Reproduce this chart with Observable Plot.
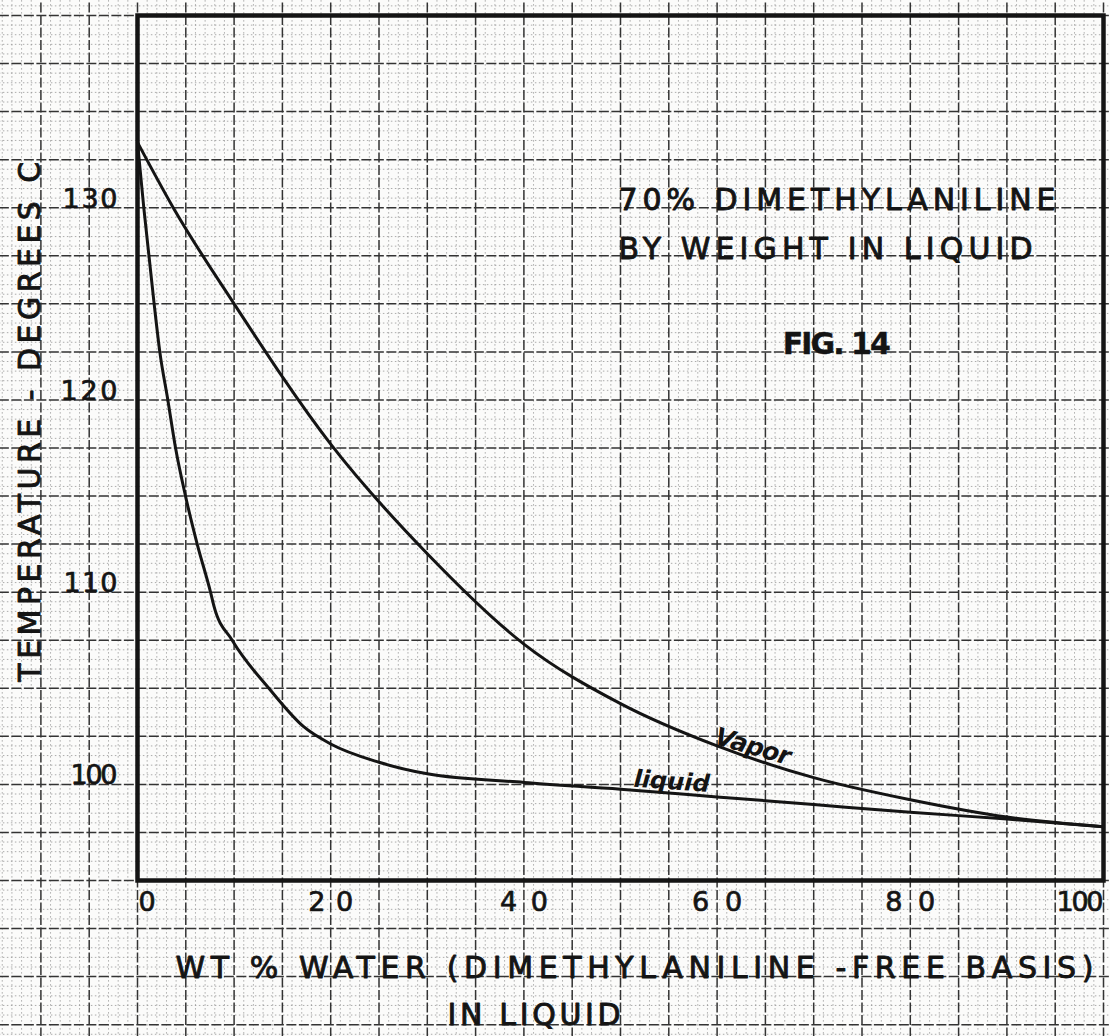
<!DOCTYPE html>
<html><head><meta charset="utf-8">
<script src="https://cdn.jsdelivr.net/npm/d3@7"></script>
<script src="https://cdn.jsdelivr.net/npm/@observablehq/plot@0.6"></script>
<style>
html,body{margin:0;padding:0;background:#fbfbfa;}
svg{display:block;}
</style></head><body><div id="chart"></div>
<script>
// ---- data ----
const xTicks = [0, 20, 40, 60, 80, 100];
const yTicks = [100, 110, 120, 130];

const vaporWater = [0, 3.7, 10, 20, 30, 40, 50, 60, 70, 80, 90, 100];
const vaporTemp  = [133.4, 130, 125, 117.7, 112, 107.3, 104.2, 102.0, 100.35, 99.2, 98.3, 97.8];

const liquidWater = [0, 0.65, 1.7, 2.31, 3.14, 3.94, 4.97, 6.18, 7.56, 7.9, 9.8, 13.6, 17.2, 20, 25, 30, 40, 50, 60, 70, 80, 90, 100];
const liquidTemp  = [133.4, 130, 125.1, 122.5, 120, 117.5, 115, 112.5, 110, 109.3, 107.5, 105, 103, 102.1, 101.15, 100.55, 100.1, 99.75, 99.35, 98.95, 98.55, 98.2, 97.8];

const titleLines = ["70% DIMETHYLANILINE", "BY WEIGHT IN LIQUID"];
const figLabel = "FIG. 14";
const yLabel = "TEMPERATURE - DEGREES C";
const xLabel1 = "WT % WATER (DIMETHYLANILINE -FREE BASIS)";
const xLabel2 = "IN LIQUID";
const vaporLabel = "Vapor";
const liquidLabel = "liquid";

// ---- tables ----
const vapor = vaporWater.map((w, i) => ({w, t: vaporTemp[i]}));
const liquid = liquidWater.map((w, i) => ({w, t: liquidTemp[i]}));

// graph-paper grid (decoration, spanning the whole sheet)
const gx = d3.range(-14, 101, 1);
const gy = d3.range(87, 141, 0.5);
const majorX = gx.filter(v => v % 5 === 0);
const minorX = gx.filter(v => v % 5 !== 0);
const majorY = gy.filter(v => v % 2.5 === 0);
const minorY = gy.filter(v => v % 2.5 !== 0);

const ink = "#141414";
const lettering = {fill: ink, stroke: ink, strokeWidth: 0.9, fontSize: 30};

const chart = Plot.plot({
  width: 1110, height: 1036,
  marginLeft: 137, marginRight: 7, marginTop: 15, marginBottom: 156,
  x: {domain: [0, 100], axis: null},
  y: {domain: [95, 140], axis: null},
  style: {background: "#fbfbfa", fontFamily: "DejaVu Sans", color: ink},
  marks: [
    // minor grid
    Plot.ruleX(minorX, {x: d => d, y1: 86.8, y2: 140.9, stroke: "#8a8a8a", strokeWidth: 1, strokeDasharray: "1.5,2.5", strokeOpacity: 0.7}),
    Plot.ruleY(minorY, {y: d => d, x1: -14.3, x2: 100.8, stroke: "#8a8a8a", strokeWidth: 1, strokeDasharray: "1.5,2.5", strokeOpacity: 0.7}),
    // major grid
    Plot.ruleX(majorX, {x: d => d, y1: 86.8, y2: 140.9, stroke: "#333", strokeWidth: 1.5, strokeDasharray: "10,2.5"}),
    Plot.ruleY(majorY, {y: d => d, x1: -14.3, x2: 100.8, stroke: "#333", strokeWidth: 1.5, strokeDasharray: "10,2.5"}),
    // frame
    Plot.frame({stroke: ink, strokeWidth: 4.5}),
    // curves
    Plot.line(vapor, {x: "w", y: "t", curve: "monotone-x", stroke: ink, strokeWidth: 3}),
    Plot.line(liquid, {x: "w", y: "t", curve: "monotone-x", stroke: ink, strokeWidth: 3}),
    // tick labels
    Plot.text(yTicks, {x: 0, y: d => d, text: d => String(d), textAnchor: "end", lineAnchor: "bottom", dx: -20, dy: 0, ...lettering, fontSize: 27, strokeWidth: 0.7}),
    Plot.text(xTicks.slice(0, 1), {x: d => d, y: 95, text: d => String(d), textAnchor: "start", lineAnchor: "bottom", dx: 1, dy: 30, ...lettering, fontSize: 27, strokeWidth: 0.7}),
    Plot.text(xTicks.slice(1, -1), {x: d => d, y: 95, text: d => String(d), textAnchor: "middle", lineAnchor: "bottom", dy: 30, ...lettering, fontSize: 27, strokeWidth: 0.7}),
    Plot.text(xTicks.slice(-1), {x: d => d, y: 95, text: d => String(d), textAnchor: "end", lineAnchor: "bottom", dx: 0, dy: 30, ...lettering, fontSize: 27, strokeWidth: 0.7}),
    // axis titles
    Plot.text([yLabel], {x: -10.05, y: 118.87, text: d => d, rotate: -90, textAnchor: "middle", lineAnchor: "bottom", ...lettering}),
    Plot.text([xLabel1], {x: 3.93, y: 89.95, text: d => d, textAnchor: "start", lineAnchor: "bottom", ...lettering}),
    Plot.text([xLabel2], {x: 32.1, y: 87.46, text: d => d, textAnchor: "start", lineAnchor: "bottom", ...lettering}),
    // annotation block
    Plot.text([titleLines[0]], {x: 49.8, y: 129.9, text: d => d, textAnchor: "start", lineAnchor: "bottom", ...lettering}),
    Plot.text([titleLines[1]], {x: 49.8, y: 127.35, text: d => d, textAnchor: "start", lineAnchor: "bottom", ...lettering}),
    Plot.text([figLabel], {x: 66.8, y: 122.4, text: d => d, textAnchor: "start", lineAnchor: "bottom", ...lettering, fontWeight: "bold", strokeWidth: 0.4}),
    // curve labels
    Plot.text([vaporLabel], {x: 63.7, y: 101.96, text: d => d, rotate: 16, textAnchor: "middle", lineAnchor: "middle", fontSize: 25, fontStyle: "italic", fontWeight: "bold", fill: ink}),
    Plot.text([liquidLabel], {x: 55.3, y: 100.14, text: d => d, rotate: 4, textAnchor: "middle", lineAnchor: "middle", fontSize: 24, fontStyle: "italic", fontWeight: "bold", fill: ink})
  ]
});

// stretch hand-lettered strings to the widths they occupy on the sheet
const fit = new Map([
  [titleLines[0], 437], [titleLines[1], 414], [figLabel, 108],
  [yLabel, 520], [xLabel1, 918], [xLabel2, 173],
  [vaporLabel, 78], [liquidLabel, 76],
  ["0", 19], ["20", 45], ["40", 48], ["60", 50], ["80", 50], ["100", 47],
  ["130", 55], ["120", 57], ["110", 54]
]);
chart.querySelectorAll("text").forEach(t => {
  const L = fit.get(t.textContent);
  if (L) { t.setAttribute("textLength", L); t.setAttribute("lengthAdjust", "spacing"); }
});
document.getElementById("chart").append(chart);
</script>
</body></html>
